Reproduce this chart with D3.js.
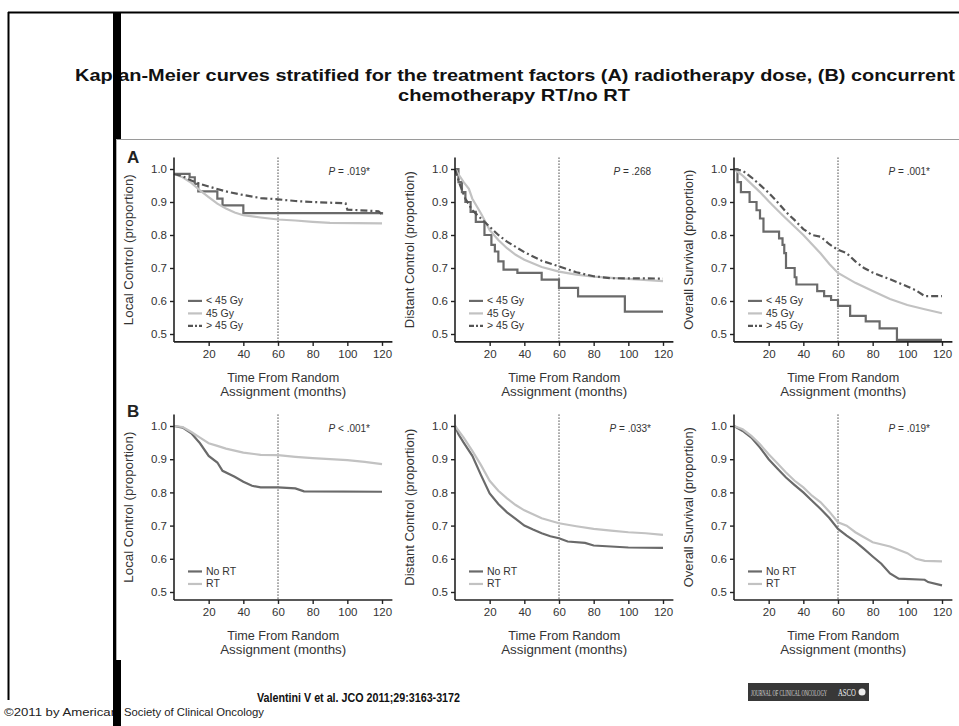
<!DOCTYPE html>
<html><head><meta charset="utf-8">
<script src="https://cdn.jsdelivr.net/npm/d3@7"></script>
<style>body{margin:0;background:#fff}svg{display:block}</style>
</head><body>
<svg id="c" width="959" height="726"></svg>
<script>
// ---------- DATA ----------
const titleLines = ["Kaplan-Meier curves stratified for the treatment factors (A) radiotherapy dose, (B) concurrent", "chemotherapy RT/no RT"];
const citation = "Valentini V et al. JCO 2011;29:3163-3172";
const copyrightParts = ["\u00A92011 by American", "Society of Clinical Oncology"];
const logoTexts = ["JOURNAL OF CLINICAL ONCOLOGY", "ASCO"];
const yTitles = ["Local Control (proportion)", "Distant Control (proportion)", "Overall Survival (proportion)"];
const xTitle = ["Time From Random", "Assignment (months)"];
const yTicks = [0.5, 0.6, 0.7, 0.8, 0.9, 1.0];
const xTicks = [20, 40, 60, 80, 100, 120];
const landmark = 60;
const rowLabels = ["A", "B"];
const pValuesA = ["= .019*", "= .268", "= .001*"];
const pValuesB = ["< .001*", "= .033*", "= .019*"];
const doseLabels = ["< 45 Gy", "45 Gy", "> 45 Gy"];
const rtLabels = ["No RT", "RT"];

// Row A: radiotherapy dose  [months, proportion]
const lcLow = [[0,0.985],[9,0.975],[12,0.955],[14,0.932],[25,0.91],[28,0.89],[40,0.866],[120,0.862]];
const lcMid = [[0,0.985],[5,0.975],[10,0.958],[15,0.935],[20,0.915],[25,0.895],[30,0.88],[35,0.868],[40,0.86],[50,0.853],[60,0.847],[70,0.844],[80,0.84],[90,0.837],[120,0.835]];
const lcHigh = [[0,0.985],[5,0.978],[10,0.965],[15,0.955],[20,0.947],[30,0.932],[40,0.921],[50,0.912],[60,0.908],[70,0.903],[80,0.9],[99,0.896],[100,0.877],[118,0.872],[120,0.862]];

const dcLow = [[0,1.0],[2,0.96],[4,0.93],[6,0.9],[9,0.87],[12,0.84],[17,0.8],[21,0.77],[23,0.75],[25,0.72],[28,0.695],[36,0.685],[50,0.665],[60,0.64],[71,0.614],[98,0.568],[120,0.568]];
const dcMid = [[0,1.0],[5,0.96],[8,0.94],[10,0.91],[15,0.865],[20,0.815],[25,0.785],[30,0.76],[35,0.74],[40,0.725],[50,0.703],[60,0.689],[70,0.68],[80,0.674],[90,0.67],[100,0.667],[120,0.66]];
const dcHigh = [[0,1.0],[3,0.95],[6,0.91],[10,0.875],[15,0.85],[20,0.825],[25,0.8],[30,0.78],[40,0.748],[50,0.722],[60,0.705],[70,0.687],[80,0.675],[90,0.669],[120,0.668]];

const osLow = [[0,1.0],[2,0.96],[4,0.93],[9,0.9],[13,0.875],[15,0.85],[17,0.81],[25,0.81],[26,0.79],[28,0.77],[29,0.745],[30,0.7],[34,0.7],[35,0.672],[36,0.65],[48,0.63],[52,0.615],[56,0.603],[60,0.585],[67,0.555],[76,0.538],[84,0.517],[93,0.517],[94,0.482],[120,0.482]];
const osMid = [[0,1.0],[5,0.98],[10,0.955],[15,0.93],[20,0.902],[25,0.876],[30,0.85],[35,0.825],[40,0.8],[45,0.772],[50,0.744],[55,0.712],[60,0.685],[70,0.655],[80,0.63],[90,0.606],[100,0.588],[110,0.575],[120,0.563]];
const osHigh = [[0,1.0],[5,0.995],[10,0.975],[15,0.952],[20,0.928],[25,0.9],[30,0.87],[35,0.845],[40,0.818],[45,0.8],[50,0.795],[55,0.772],[60,0.755],[65,0.745],[70,0.72],[75,0.7],[80,0.686],[90,0.666],[100,0.644],[105,0.632],[110,0.615],[120,0.615]];

// Row B: concurrent chemotherapy RT / no RT
const lcNoRT = [[0,1.0],[5,0.995],[10,0.978],[15,0.948],[20,0.91],[25,0.89],[28,0.865],[35,0.847],[40,0.832],[45,0.82],[50,0.815],[60,0.815],[70,0.812],[75,0.803],[120,0.802]];
const lcRT = [[0,1.0],[5,0.997],[10,0.982],[15,0.965],[20,0.948],[25,0.94],[30,0.932],[40,0.92],[50,0.913],[60,0.912],[70,0.907],[80,0.903],[90,0.9],[100,0.897],[110,0.892],[120,0.885]];

const dcNoRT = [[0,1.0],[2,0.975],[5,0.95],[10,0.91],[15,0.852],[20,0.797],[25,0.765],[30,0.74],[35,0.72],[40,0.7],[45,0.688],[50,0.677],[55,0.668],[60,0.662],[65,0.652],[75,0.648],[80,0.64],[100,0.634],[120,0.633]];
const dcRT = [[0,1.0],[5,0.965],[10,0.925],[15,0.882],[20,0.835],[25,0.805],[30,0.782],[35,0.762],[40,0.746],[50,0.722],[60,0.707],[70,0.698],[80,0.69],[90,0.685],[100,0.68],[110,0.677],[120,0.672]];

const osNoRT = [[0,1.0],[5,0.985],[10,0.965],[15,0.935],[20,0.9],[25,0.872],[30,0.845],[35,0.822],[40,0.8],[45,0.775],[50,0.75],[55,0.723],[60,0.69],[65,0.67],[70,0.652],[75,0.63],[80,0.607],[85,0.585],[90,0.556],[95,0.54],[110,0.537],[112,0.53],[120,0.52]];
const osRT = [[0,1.0],[5,0.99],[10,0.97],[15,0.945],[20,0.915],[25,0.888],[30,0.86],[35,0.835],[40,0.815],[45,0.79],[50,0.77],[55,0.742],[60,0.71],[65,0.7],[70,0.68],[75,0.665],[80,0.65],[90,0.637],[100,0.617],[105,0.6],[110,0.594],[120,0.592]];

// ---------- STYLE ----------
const DARK = "#6a6a6a", LIGHT = "#c2c2c2", DASH = "#555555";
const styles = {
  low:  {color: DARK, dash: null, step: true},
  mid:  {color: LIGHT, dash: null, step: false},
  high: {color: DASH, dash: "7,3,2,3", step: false},
  noRT: {color: DARK, dash: null, step: false},
  rt:   {color: LIGHT, dash: null, step: false}
};
const rows = [
  {label: rowLabels[0], top: 169, bottom: 334, labelY: 163, pvals: pValuesA, legend: doseLabels, keys: ["low","mid","high"],
   series: [[lcLow, lcMid, lcHigh], [dcLow, dcMid, dcHigh], [osLow, osMid, osHigh]]},
  {label: rowLabels[1], top: 426, bottom: 592, labelY: 417, pvals: pValuesB, legend: rtLabels, keys: ["noRT","rt"],
   series: [[lcNoRT, lcRT], [dcNoRT, dcRT], [osNoRT, osRT]]}
];
const colX = [174, 455, 734];
const PW = 208; // width for 120 months
const yTitleLen = [151, 157, 160];

const svg = d3.select("#c");
const FONT = "'Liberation Sans',Arial,sans-serif";

// fit a text element horizontally into a given width with a scale transform
function fitText(sel, x, y, w) {
  const len = sel.node().getComputedTextLength();
  sel.attr("transform", `translate(${x},${y}) scale(${w / len},1)`);
}

// slide frame
svg.append("line").attr("x1", 8).attr("x2", 959).attr("y1", 12.5).attr("y2", 12.5).attr("stroke", "#000").attr("stroke-width", 2);
svg.append("line").attr("x1", 8.5).attr("x2", 8.5).attr("y1", 12).attr("y2", 700).attr("stroke", "#000").attr("stroke-width", 2);

// title
const tl = svg.append("g").attr("font-family", FONT).attr("font-weight", "bold").attr("font-size", 16.5).attr("fill", "#111").attr("text-anchor", "middle");
tl.append("text").attr("x", 515).attr("y", 81).attr("textLength", 880).attr("lengthAdjust", "spacingAndGlyphs").text(titleLines[0]);
tl.append("text").attr("x", 514).attr("y", 101).attr("textLength", 232).attr("lengthAdjust", "spacingAndGlyphs").text(titleLines[1]);

// footer
svg.append("rect").attr("x", 0).attr("y", 703).attr("width", 250).attr("height", 16).attr("fill", "#fff");
const cp = svg.append("g").attr("font-family", FONT).attr("font-size", 11.5).attr("fill", "#222");
cp.append("text").attr("x", 4).attr("y", 716).attr("textLength", 114).attr("lengthAdjust", "spacingAndGlyphs").text(copyrightParts[0]);
cp.append("text").attr("x", 124).attr("y", 716).attr("textLength", 140).attr("lengthAdjust", "spacingAndGlyphs").text(copyrightParts[1]);
svg.append("text").attr("x", 257).attr("y", 702).attr("font-family", FONT).attr("font-weight", "bold").attr("font-size", 13).attr("fill", "#111")
  .attr("textLength", 203).attr("lengthAdjust", "spacingAndGlyphs").text(citation);

// journal logo
const logo = svg.append("g");
logo.append("rect").attr("x", 748).attr("y", 683).attr("width", 121).attr("height", 18).attr("fill", "#383838");
const jt = logo.append("text").attr("font-family", "'Liberation Serif',serif").attr("font-size", 7.5).attr("fill", "#d8d8d8").text(logoTexts[0]);
fitText(jt, 751, 695.5, 76);
const at = logo.append("text").attr("font-family", "'Liberation Serif',serif").attr("font-size", 9.5).attr("fill", "#eee").text(logoTexts[1]);
fitText(at, 838, 696, 18);
logo.append("circle").attr("cx", 862).attr("cy", 692).attr("r", 3.5).attr("fill", "#eee");

// black bar
svg.append("rect").attr("x", 113).attr("y", 12).attr("width", 8).attr("height", 714).attr("fill", "#000");

// figure image area
svg.append("rect").attr("x", 116).attr("y", 139).attr("width", 843).attr("height", 521).attr("fill", "#fff");
svg.append("line").attr("x1", 116).attr("x2", 959).attr("y1", 139.5).attr("y2", 139.5).attr("stroke", "#9a9a9a");
svg.append("line").attr("x1", 116.5).attr("x2", 116.5).attr("y1", 139).attr("y2", 660).attr("stroke", "#b0b0b0");

const fig = svg.append("g").attr("font-family", FONT).attr("fill", "#333");

rows.forEach((row, ri) => {
  const y = d3.scaleLinear().domain([0.5, 1.0]).range([row.bottom, row.top]);
  const yAxisTop = y(1.035), yAxisBot = y(0.476);
  fig.append("text").attr("x", 127).attr("y", row.labelY)
    .attr("font-weight", "bold").attr("font-size", 17).attr("fill", "#222").text(row.label);

  colX.forEach((x0, ci) => {
    const x = d3.scaleLinear().domain([0, 120]).range([x0, x0 + PW]);
    const g = fig.append("g");

    // dotted landmark line
    g.append("line").attr("x1", x(landmark)).attr("x2", x(landmark)).attr("y1", yAxisTop).attr("y2", yAxisBot)
      .attr("stroke", "#444").attr("stroke-width", 1).attr("stroke-dasharray", "1.5,1.5");

    // curves
    row.series[ci].forEach((data, si) => {
      const st = styles[row.keys[si]];
      const line = d3.line().x(d => x(d[0])).y(d => y(d[1])).curve(st.step ? d3.curveStepAfter : d3.curveLinear);
      g.append("path").datum(data).attr("d", line).attr("fill", "none").attr("stroke", st.color)
        .attr("stroke-width", 2.2).attr("stroke-dasharray", st.dash);
    });

    // y axis
    const ya = d3.axisLeft(y).tickValues(yTicks).tickFormat(d3.format(".1f")).tickSize(4).tickPadding(3);
    const yg = g.append("g").attr("transform", `translate(${x0},0)`).call(ya);
    yg.select(".domain").remove();
    yg.append("line").attr("x1", 0).attr("x2", 0).attr("y1", yAxisTop).attr("y2", yAxisBot).attr("stroke", "#222").attr("stroke-width", 1.6);
    yg.selectAll(".tick line").attr("stroke", "#222").attr("stroke-width", 1.4);
    yg.selectAll(".tick text").attr("font-family", FONT).attr("font-size", 11.5).attr("fill", "#333");

    // x axis
    const xa = d3.axisBottom(x).tickValues(xTicks).tickFormat(d3.format("d")).tickSize(4).tickPadding(4);
    const xg = g.append("g").attr("transform", `translate(0,${yAxisBot})`).call(xa);
    xg.select(".domain").remove();
    xg.append("line").attr("x1", x0).attr("x2", x(126)).attr("y1", 0).attr("y2", 0).attr("stroke", "#222").attr("stroke-width", 1.6);
    xg.selectAll(".tick line").attr("stroke", "#222").attr("stroke-width", 1.4);
    xg.selectAll(".tick text").attr("font-family", FONT).attr("font-size", 11.5).attr("fill", "#333");

    // axis titles
    const cx = (x0 + x(126)) / 2;
    g.append("text").attr("x", cx).attr("y", yAxisBot + 40).attr("text-anchor", "middle").attr("font-size", 12.5)
      .attr("textLength", 112).attr("lengthAdjust", "spacingAndGlyphs").text(xTitle[0]);
    g.append("text").attr("x", cx).attr("y", yAxisBot + 54).attr("text-anchor", "middle").attr("font-size", 12.5)
      .attr("textLength", 126).attr("lengthAdjust", "spacingAndGlyphs").text(xTitle[1]);
    g.append("text").attr("transform", `translate(${x0 - 41},${(yAxisTop + yAxisBot) / 2}) rotate(-90)`)
      .attr("text-anchor", "middle").attr("font-size", 12.5)
      .attr("textLength", yTitleLen[ci]).attr("lengthAdjust", "spacingAndGlyphs").text(yTitles[ci]);

    // p value
    const pt = g.append("text").attr("x", x0 + 196).attr("y", yAxisTop + 18).attr("text-anchor", "end").attr("font-size", 10);
    pt.append("tspan").attr("font-style", "italic").text("P");
    pt.append("tspan").text(" " + row.pvals[ci]);

    // legend
    const n = row.legend.length;
    row.legend.forEach((lab, li) => {
      const st = styles[row.keys[li]];
      const ly = yAxisBot - 16 - (n - 1 - li) * 12.5;
      g.append("line").attr("x1", x0 + 14).attr("x2", x0 + 28).attr("y1", ly).attr("y2", ly)
        .attr("stroke", st.color).attr("stroke-width", 2.2).attr("stroke-dasharray", st.dash ? "5,2,2,2" : null);
      g.append("text").attr("x", x0 + 32).attr("y", ly + 3.5).attr("font-size", 10.5).text(lab);
    });
  });
});
</script>
</body></html>
